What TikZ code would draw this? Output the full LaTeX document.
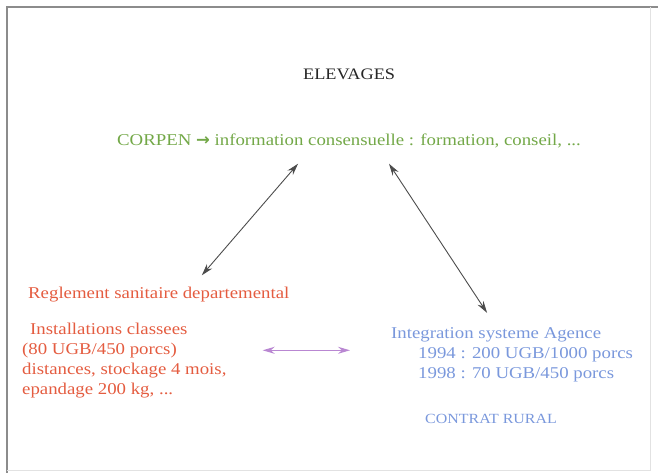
\documentclass[tikz,border=0pt]{standalone}
\usepackage{fontspec}
\setmainfont{Liberation Serif}
\newfontfamily\slidefont{Liberation Serif}[FakeStretch=1.14]
\newfontfamily\arrowglyph{DejaVu Sans}
\usetikzlibrary{arrows.meta,calc}

\definecolor{corpengreen}{RGB}{115,168,72}
\definecolor{reglred}{RGB}{228,92,64}
\definecolor{agenceblue}{RGB}{122,152,220}
\definecolor{framegray}{RGB}{140,140,140}
\definecolor{linkpurple}{RGB}{185,135,210}

\tikzset{
  txt/.style={inner sep=0pt, anchor=base west, font=\slidefont\fontsize{16.5}{20}\selectfont},
  titletxt/.style={txt, text=black!85, font=\slidefont\fontsize{16}{19}\selectfont},
  corpen/.style={txt, text=corpengreen},
  regl/.style={txt, text=reglred},
  agence/.style={txt, text=agenceblue},
  link/.style={draw=black!70, line width=0.9pt,
    {Stealth[length=12pt,width=7pt]}-{Stealth[length=12pt,width=7pt]}},
}

\begin{document}
\begin{tikzpicture}[x=1pt,y=-1pt]
\useasboundingbox (0,0) rectangle (658,473);
% slide frame
\draw[framegray, line width=1.6pt] (7,473) -- (7,7) -- (658,7);
\draw[framegray!25, line width=0.8pt] (650,7) -- (650,470) -- (7,470);

\node[titletxt] (elev) at (303,80) {ELEVAGES};
\node[corpen] (corpen) at (117,146) {CORPEN {\arrowglyph\bfseries →} information consensuelle : formation, conseil, ...};

\node[regl] (regl) at (28,298) {Reglement sanitaire departemental};
% multi-line nodes sit on the baseline of their last line
\node[regl, align=left] (install) at (22,394)
  {\hspace*{8pt}Installations classees\\(80 UGB/450 porcs)\\distances, stockage 4 mois,\\epandage 200 kg, ...};

\node[agence, align=left] (agence) at (391,378)
  {Integration systeme Agence\\\hspace*{27pt}1994 : 200 UGB/1000 porcs\\\hspace*{27pt}1998 : 70 UGB/450 porcs};
\node[agence, font=\slidefont\fontsize{14}{17}\selectfont] (contrat) at (425,423) {CONTRAT RURAL};

% links
\draw[link] ([xshift=-51pt,yshift=-15pt]corpen.south) -- ([xshift=43pt,yshift=11pt]regl.north);
\draw[link] ([xshift=40pt,yshift=-15pt]corpen.south) -- ([xshift=-25pt,yshift=14pt]agence.north);
\draw[link, draw=linkpurple, line width=1.3pt]
  ($(install.east |- agence.west)+(36,-4)$) -- ($(agence.west)+(-41,-4)$);
\end{tikzpicture}
\end{document}
